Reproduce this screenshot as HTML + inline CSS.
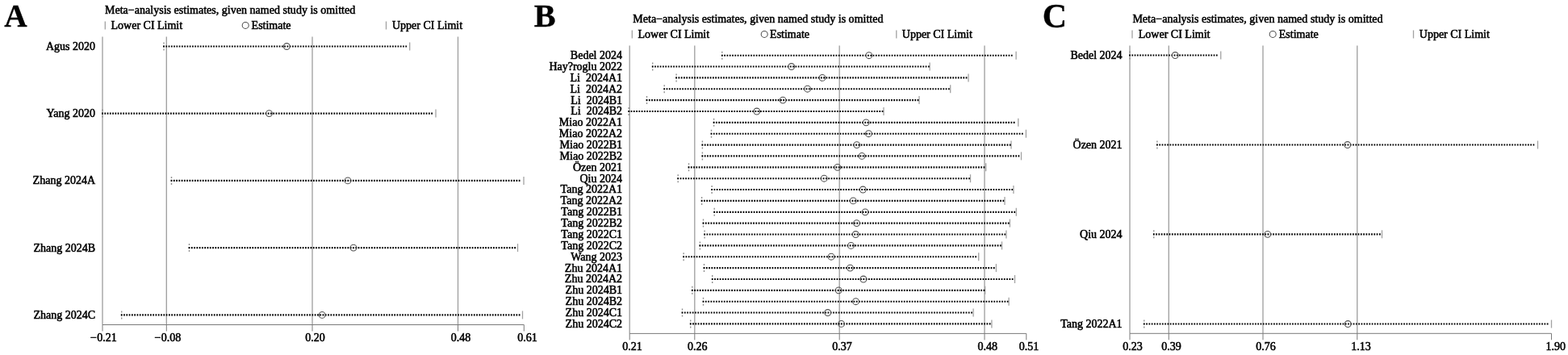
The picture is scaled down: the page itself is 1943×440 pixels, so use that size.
<!DOCTYPE html>
<html lang="en">
<head>
<meta charset="utf-8">
<title>Meta-analysis estimates, given named study is omitted</title>
<style>
html,body{margin:0;padding:0;background:#fff;}
body{width:1943px;height:440px;overflow:hidden;}
svg{display:block;font-family:"Liberation Serif","Noto Serif CJK SC",serif;}
.t{font-size:14px;fill:#000;stroke:#000;stroke-width:0.55px;white-space:pre;}
.r{text-anchor:end;}
.pl{font-weight:bold;fill:#000;stroke:#000;stroke-width:0.3px;}
.g{stroke:#a0a0a0;stroke-width:1.35;}
.ax{stroke:#7a7a7a;stroke-width:1;}
.ci{stroke:#a2a2a2;stroke-width:1.3;}
.lg{stroke:#3a3a3a;stroke-width:1.2;}
.lo{stroke:#909090;stroke-width:1.4;stroke-dasharray:2 2;}
.d{stroke:#000;stroke-width:2.15;}
.est{fill:none;stroke:#505050;stroke-width:1.05;}
</style>
</head>
<body>
<svg width="1943" height="440" viewBox="0 0 1943 440">
<rect width="1943" height="440" fill="#fff"/>
<g id="panelA">
<text class="pl" font-size="39.3" x="5.2" y="33.3">A</text>
<text class="t" x="130" y="17.3" textLength="310.2" lengthAdjust="spacing">Meta−analysis estimates, given named study is omitted</text>
<line class="ci" x1="130.3" y1="26.5" x2="130.3" y2="36.5"/>
<text class="t" x="137.5" y="35.6">Lower CI Limit</text>
<circle class="est lg" cx="304.2" cy="31.4" r="4"/>
<text class="t" x="311.6" y="35.6">Estimate</text>
<line class="ci" x1="478.5" y1="26.5" x2="478.5" y2="36.5"/>
<text class="t" x="486.0" y="35.6">Upper CI Limit</text>
<line class="g" x1="127" y1="45.5" x2="127" y2="402.5"/>
<line class="g" x1="206.3" y1="45.5" x2="206.3" y2="402.5"/>
<line class="g" x1="387" y1="45.5" x2="387" y2="402.5"/>
<line class="g" x1="567.5" y1="45.5" x2="567.5" y2="402.5"/>
<line class="ax" x1="127" y1="402.5" x2="649.3" y2="402.5"/>
<line class="ax" x1="127" y1="402.5" x2="127" y2="410.5"/>
<line class="ax" x1="206.3" y1="402.5" x2="206.3" y2="410.5"/>
<line class="ax" x1="387" y1="402.5" x2="387" y2="410.5"/>
<line class="ax" x1="567.5" y1="402.5" x2="567.5" y2="410.5"/>
<line class="ax" x1="649.3" y1="402.5" x2="649.3" y2="410.5"/>
<text class="t" x="111.9" y="423">−<tspan x="120.3">0.21</tspan></text>
<text class="t" x="191.4" y="423">−<tspan x="199.8">0.08</tspan></text>
<text class="t" x="378.3" y="423">0.20</text>
<text class="t" x="558.8" y="423">0.48</text>
<text class="t" x="641.3" y="423">0.61</text>
<text class="t r" x="118" y="61.9">Agus 2020</text>
<line class="ci lo" x1="203" y1="52.5" x2="203" y2="62.5"/>
<line class="ci" x1="507.7" y1="52.5" x2="507.7" y2="62.5"/>
<line class="d" x1="202.12" y1="57.5" x2="504.15" y2="57.5" stroke-dasharray="1.75 1.5133"/>
<circle class="est" cx="355.3" cy="57.5" r="3.9"/>
<text class="t r" x="118" y="145.0">Yang 2020</text>
<line class="ci lo" x1="127" y1="135.6" x2="127" y2="145.6"/>
<line class="ci" x1="540" y1="135.6" x2="540" y2="145.6"/>
<line class="d" x1="126.12" y1="140.6" x2="536.05" y2="140.6" stroke-dasharray="1.75 1.5150"/>
<circle class="est" cx="333.5" cy="140.6" r="3.9"/>
<text class="t r" x="118" y="228.3">Zhang 2024A</text>
<line class="ci lo" x1="212.5" y1="218.9" x2="212.5" y2="228.9"/>
<line class="ci" x1="649" y1="218.9" x2="649" y2="228.9"/>
<line class="d" x1="211.62" y1="223.9" x2="644.55" y2="223.9" stroke-dasharray="1.75 1.5161"/>
<circle class="est" cx="431" cy="223.9" r="3.9"/>
<text class="t r" x="118" y="311.5">Zhang 2024B</text>
<line class="ci lo" x1="234.5" y1="302.1" x2="234.5" y2="312.1"/>
<line class="ci" x1="641.5" y1="302.1" x2="641.5" y2="312.1"/>
<line class="d" x1="233.62" y1="307.1" x2="639.05" y2="307.1" stroke-dasharray="1.75 1.5315"/>
<circle class="est" cx="438" cy="307.1" r="3.9"/>
<text class="t r" x="118" y="394.8">Zhang 2024C</text>
<line class="ci lo" x1="150.7" y1="385.4" x2="150.7" y2="395.4"/>
<line class="ci" x1="647.5" y1="385.4" x2="647.5" y2="395.4"/>
<line class="d" x1="149.82" y1="390.4" x2="644.55" y2="390.4" stroke-dasharray="1.75 1.5362"/>
<circle class="est" cx="399.2" cy="390.4" r="3.9"/>
</g>
<g id="panelB">
<text class="pl" font-size="40.2" x="661.8" y="33">B</text>
<text class="t" x="784.3" y="28.1" textLength="310.2" lengthAdjust="spacing">Meta−analysis estimates, given named study is omitted</text>
<line class="ci" x1="783.3" y1="37.5" x2="783.3" y2="47.5"/>
<text class="t" x="790.5" y="46.6">Lower CI Limit</text>
<circle class="est lg" cx="947.1999999999999" cy="42.4" r="4"/>
<text class="t" x="954.0999999999999" y="46.6">Estimate</text>
<line class="ci" x1="1110.8" y1="37.5" x2="1110.8" y2="47.5"/>
<text class="t" x="1117.8" y="46.6">Upper CI Limit</text>
<line class="g" x1="780.2" y1="56.5" x2="780.2" y2="413.4"/>
<line class="g" x1="860.8" y1="56.5" x2="860.8" y2="413.4"/>
<line class="g" x1="1040.2" y1="56.5" x2="1040.2" y2="413.4"/>
<line class="g" x1="1220" y1="56.5" x2="1220" y2="413.4"/>
<line class="ax" x1="780.2" y1="413.4" x2="1271.8" y2="413.4"/>
<line class="ax" x1="780.2" y1="413.4" x2="780.2" y2="421.4"/>
<line class="ax" x1="860.8" y1="413.4" x2="860.8" y2="421.4"/>
<line class="ax" x1="1040.2" y1="413.4" x2="1040.2" y2="421.4"/>
<line class="ax" x1="1220" y1="413.4" x2="1220" y2="421.4"/>
<line class="ax" x1="1271.8" y1="413.4" x2="1271.8" y2="421.4"/>
<text class="t" x="771.3" y="433.9">0.21</text>
<text class="t" x="852" y="433.9">0.26</text>
<text class="t" x="1031.2" y="433.9">0.37</text>
<text class="t" x="1211.5" y="433.9">0.48</text>
<text class="t" x="1262.7" y="433.9">0.51</text>
<text class="t r" x="771" y="73.1">Bedel 2024</text>
<line class="ci lo" x1="894.8" y1="63.7" x2="894.8" y2="73.7"/>
<line class="ci" x1="1259.1" y1="63.7" x2="1259.1" y2="73.7"/>
<line class="d" x1="893.92" y1="68.7" x2="1254.65" y2="68.7" stroke-dasharray="1.75 1.5429"/>
<circle class="est" cx="1076.8" cy="68.7" r="3.9"/>
<text class="t r" x="771" y="86.9">Hay?roglu 2022</text>
<line class="ci lo" x1="808.7" y1="77.5" x2="808.7" y2="87.5"/>
<line class="ci" x1="1152.1" y1="77.5" x2="1152.1" y2="87.5"/>
<line class="d" x1="807.83" y1="82.5" x2="1151.75" y2="82.5" stroke-dasharray="1.75 1.5397"/>
<circle class="est" cx="980.7" cy="82.5" r="3.9"/>
<text class="t r" x="771" y="100.8">Li  2024A1</text>
<line class="ci lo" x1="838.1" y1="91.4" x2="838.1" y2="101.4"/>
<line class="ci" x1="1200" y1="91.4" x2="1200" y2="101.4"/>
<line class="d" x1="837.23" y1="96.4" x2="1198.45" y2="96.4" stroke-dasharray="1.75 1.5175"/>
<circle class="est" cx="1019" cy="96.4" r="3.9"/>
<text class="t r" x="771" y="114.6">Li  2024A2</text>
<line class="ci lo" x1="823.2" y1="105.2" x2="823.2" y2="115.2"/>
<line class="ci" x1="1177.7" y1="105.2" x2="1177.7" y2="115.2"/>
<line class="d" x1="822.33" y1="110.2" x2="1176.75" y2="110.2" stroke-dasharray="1.75 1.5150"/>
<circle class="est" cx="1000.6" cy="110.2" r="3.9"/>
<text class="t r" x="771" y="128.5">Li  2024B1</text>
<line class="ci lo" x1="801.5" y1="119.1" x2="801.5" y2="129.1"/>
<line class="ci" x1="1139" y1="119.1" x2="1139" y2="129.1"/>
<line class="d" x1="800.62" y1="124.1" x2="1138.45" y2="124.1" stroke-dasharray="1.75 1.5124"/>
<circle class="est" cx="970.1" cy="124.1" r="3.9"/>
<text class="t r" x="771" y="142.4">Li  2024B2</text>
<line class="ci lo" x1="779.2" y1="133.0" x2="779.2" y2="143.0"/>
<line class="ci" x1="1095" y1="133.0" x2="1095" y2="143.0"/>
<line class="d" x1="778.33" y1="138.0" x2="1094.45" y2="138.0" stroke-dasharray="1.75 1.5242"/>
<circle class="est" cx="937.8" cy="138.0" r="3.9"/>
<text class="t r" x="771" y="156.2">Miao 2022A1</text>
<line class="ci lo" x1="884.6" y1="146.8" x2="884.6" y2="156.8"/>
<line class="ci" x1="1261.8" y1="146.8" x2="1261.8" y2="156.8"/>
<line class="d" x1="883.73" y1="151.8" x2="1257.55" y2="151.8" stroke-dasharray="1.75 1.5423"/>
<circle class="est" cx="1073.2" cy="151.8" r="3.9"/>
<text class="t r" x="771" y="170.1">Miao 2022A2</text>
<line class="ci lo" x1="881.5" y1="160.7" x2="881.5" y2="170.7"/>
<line class="ci" x1="1271.4" y1="160.7" x2="1271.4" y2="170.7"/>
<line class="d" x1="880.62" y1="165.7" x2="1267.75" y2="165.7" stroke-dasharray="1.75 1.5155"/>
<circle class="est" cx="1076.4" cy="165.7" r="3.9"/>
<text class="t r" x="771" y="184.0">Miao 2022B1</text>
<line class="ci lo" x1="870.4" y1="174.6" x2="870.4" y2="184.6"/>
<line class="ci" x1="1253" y1="174.6" x2="1253" y2="184.6"/>
<line class="d" x1="869.52" y1="179.6" x2="1252.65" y2="179.6" stroke-dasharray="1.75 1.5373"/>
<circle class="est" cx="1061.7" cy="179.6" r="3.9"/>
<text class="t r" x="771" y="197.8">Miao 2022B2</text>
<line class="ci lo" x1="870.4" y1="188.4" x2="870.4" y2="198.4"/>
<line class="ci" x1="1265.5" y1="188.4" x2="1265.5" y2="198.4"/>
<line class="d" x1="869.52" y1="193.4" x2="1263.35" y2="193.4" stroke-dasharray="1.75 1.5169"/>
<circle class="est" cx="1068" cy="193.4" r="3.9"/>
<text class="t r" x="771" y="211.7">Özen 2021</text>
<line class="ci lo" x1="853.5" y1="202.3" x2="853.5" y2="212.3"/>
<line class="ci" x1="1221.7" y1="202.3" x2="1221.7" y2="212.3"/>
<line class="d" x1="852.62" y1="207.3" x2="1220.35" y2="207.3" stroke-dasharray="1.75 1.5172"/>
<circle class="est" cx="1037.8" cy="207.3" r="3.9"/>
<text class="t r" x="771" y="225.6">Qiu 2024</text>
<line class="ci lo" x1="840.2" y1="216.2" x2="840.2" y2="226.2"/>
<line class="ci" x1="1202.5" y1="216.2" x2="1202.5" y2="226.2"/>
<line class="d" x1="839.33" y1="221.2" x2="1201.95" y2="221.2" stroke-dasharray="1.75 1.5302"/>
<circle class="est" cx="1021.2" cy="221.2" r="3.9"/>
<text class="t r" x="771" y="239.4">Tang 2022A1</text>
<line class="ci lo" x1="882.1" y1="230.0" x2="882.1" y2="240.0"/>
<line class="ci" x1="1255.9" y1="230.0" x2="1255.9" y2="240.0"/>
<line class="d" x1="881.23" y1="235.0" x2="1255.15" y2="235.0" stroke-dasharray="1.75 1.5143"/>
<circle class="est" cx="1069.3" cy="235.0" r="3.9"/>
<text class="t r" x="771" y="253.3">Tang 2022A2</text>
<line class="ci lo" x1="869.6" y1="243.9" x2="869.6" y2="253.9"/>
<line class="ci" x1="1245" y1="243.9" x2="1245" y2="253.9"/>
<line class="d" x1="868.73" y1="248.9" x2="1244.25" y2="248.9" stroke-dasharray="1.75 1.5283"/>
<circle class="est" cx="1057.2" cy="248.9" r="3.9"/>
<text class="t r" x="771" y="267.2">Tang 2022B1</text>
<line class="ci lo" x1="885.2" y1="257.8" x2="885.2" y2="267.8"/>
<line class="ci" x1="1259.3" y1="257.8" x2="1259.3" y2="267.8"/>
<line class="d" x1="884.33" y1="262.8" x2="1258.15" y2="262.8" stroke-dasharray="1.75 1.5423"/>
<circle class="est" cx="1072.1" cy="262.8" r="3.9"/>
<text class="t r" x="771" y="281.0">Tang 2022B2</text>
<line class="ci lo" x1="871.5" y1="271.6" x2="871.5" y2="281.6"/>
<line class="ci" x1="1251.4" y1="271.6" x2="1251.4" y2="281.6"/>
<line class="d" x1="870.62" y1="276.6" x2="1250.65" y2="276.6" stroke-dasharray="1.75 1.5389"/>
<circle class="est" cx="1061.5" cy="276.6" r="3.9"/>
<text class="t r" x="771" y="294.9">Tang 2022C1</text>
<line class="ci lo" x1="873.1" y1="285.5" x2="873.1" y2="295.5"/>
<line class="ci" x1="1246.9" y1="285.5" x2="1246.9" y2="295.5"/>
<line class="d" x1="872.23" y1="290.5" x2="1246.15" y2="290.5" stroke-dasharray="1.75 1.5143"/>
<circle class="est" cx="1060.3" cy="290.5" r="3.9"/>
<text class="t r" x="771" y="308.8">Tang 2022C2</text>
<line class="ci lo" x1="867.4" y1="299.4" x2="867.4" y2="309.4"/>
<line class="ci" x1="1241.5" y1="299.4" x2="1241.5" y2="309.4"/>
<line class="d" x1="866.52" y1="304.4" x2="1240.75" y2="304.4" stroke-dasharray="1.75 1.5169"/>
<circle class="est" cx="1054.5" cy="304.4" r="3.9"/>
<text class="t r" x="771" y="322.6">Wang 2023</text>
<line class="ci lo" x1="847.1" y1="313.2" x2="847.1" y2="323.2"/>
<line class="ci" x1="1212.7" y1="313.2" x2="1212.7" y2="323.2"/>
<line class="d" x1="846.23" y1="318.2" x2="1210.05" y2="318.2" stroke-dasharray="1.75 1.5411"/>
<circle class="est" cx="1030" cy="318.2" r="3.9"/>
<text class="t r" x="771" y="336.5">Zhu 2024A1</text>
<line class="ci lo" x1="872.5" y1="327.1" x2="872.5" y2="337.1"/>
<line class="ci" x1="1234.4" y1="327.1" x2="1234.4" y2="337.1"/>
<line class="d" x1="871.62" y1="332.1" x2="1232.65" y2="332.1" stroke-dasharray="1.75 1.5157"/>
<circle class="est" cx="1053.5" cy="332.1" r="3.9"/>
<text class="t r" x="771" y="350.4">Zhu 2024A2</text>
<line class="ci lo" x1="882.7" y1="341.0" x2="882.7" y2="351.0"/>
<line class="ci" x1="1257.5" y1="341.0" x2="1257.5" y2="351.0"/>
<line class="d" x1="881.83" y1="346.0" x2="1255.55" y2="346.0" stroke-dasharray="1.75 1.5414"/>
<circle class="est" cx="1069.9" cy="346.0" r="3.9"/>
<text class="t r" x="771" y="364.2">Zhu 2024B1</text>
<line class="ci lo" x1="857.8" y1="354.8" x2="857.8" y2="364.8"/>
<line class="ci" x1="1220.7" y1="354.8" x2="1220.7" y2="364.8"/>
<line class="d" x1="856.92" y1="359.8" x2="1220.35" y2="359.8" stroke-dasharray="1.75 1.5375"/>
<circle class="est" cx="1039.2" cy="359.8" r="3.9"/>
<text class="t r" x="771" y="378.1">Zhu 2024B2</text>
<line class="ci lo" x1="871.5" y1="368.7" x2="871.5" y2="378.7"/>
<line class="ci" x1="1250.1" y1="368.7" x2="1250.1" y2="378.7"/>
<line class="d" x1="870.62" y1="373.7" x2="1249.55" y2="373.7" stroke-dasharray="1.75 1.5293"/>
<circle class="est" cx="1060.5" cy="373.7" r="3.9"/>
<text class="t r" x="771" y="391.9">Zhu 2024C1</text>
<line class="ci lo" x1="845.5" y1="382.5" x2="845.5" y2="392.5"/>
<line class="ci" x1="1206.1" y1="382.5" x2="1206.1" y2="392.5"/>
<line class="d" x1="844.62" y1="387.5" x2="1204.95" y2="387.5" stroke-dasharray="1.75 1.5392"/>
<circle class="est" cx="1025.7" cy="387.5" r="3.9"/>
<text class="t r" x="771" y="405.8">Zhu 2024C2</text>
<line class="ci lo" x1="855.7" y1="396.4" x2="855.7" y2="406.4"/>
<line class="ci" x1="1228.9" y1="396.4" x2="1228.9" y2="406.4"/>
<line class="d" x1="854.83" y1="401.4" x2="1227.55" y2="401.4" stroke-dasharray="1.75 1.5325"/>
<circle class="est" cx="1042.5" cy="401.4" r="3.9"/>
</g>
<g id="panelC">
<text class="pl" font-size="42" x="1291.8" y="33.5">C</text>
<text class="t" x="1403.4" y="28.1" textLength="310.2" lengthAdjust="spacing">Meta−analysis estimates, given named study is omitted</text>
<line class="ci" x1="1403" y1="37.5" x2="1403" y2="47.5"/>
<text class="t" x="1410.8" y="46.6">Lower CI Limit</text>
<circle class="est lg" cx="1577.2" cy="42.4" r="4"/>
<text class="t" x="1584.8" y="46.6">Estimate</text>
<line class="ci" x1="1751.5" y1="37.5" x2="1751.5" y2="47.5"/>
<text class="t" x="1758.8" y="46.6">Upper CI Limit</text>
<line class="g" x1="1400" y1="56.5" x2="1400" y2="413.3"/>
<line class="g" x1="1448.3" y1="56.5" x2="1448.3" y2="413.3"/>
<line class="g" x1="1565" y1="56.5" x2="1565" y2="413.3"/>
<line class="g" x1="1681.8" y1="56.5" x2="1681.8" y2="413.3"/>
<line class="ax" x1="1400" y1="413.3" x2="1922.5" y2="413.3"/>
<line class="ax" x1="1400" y1="413.3" x2="1400" y2="421.3"/>
<line class="ax" x1="1448.3" y1="413.3" x2="1448.3" y2="421.3"/>
<line class="ax" x1="1565" y1="413.3" x2="1565" y2="421.3"/>
<line class="ax" x1="1681.8" y1="413.3" x2="1681.8" y2="421.3"/>
<line class="ax" x1="1922.5" y1="413.3" x2="1922.5" y2="421.3"/>
<text class="t" x="1391.3" y="433.8">0.23</text>
<text class="t" x="1439.3" y="433.8">0.39</text>
<text class="t" x="1556.3" y="433.8">0.76</text>
<text class="t" x="1674.3" y="433.8">1.13</text>
<text class="t" x="1915.5" y="433.8">1.90</text>
<text class="t r" x="1390.6" y="72.9">Bedel 2024</text>
<line class="ci lo" x1="1400" y1="63.5" x2="1400" y2="73.5"/>
<line class="ci" x1="1512.75" y1="63.5" x2="1512.75" y2="73.5"/>
<line class="d" x1="1399.12" y1="68.5" x2="1508.70" y2="68.5" stroke-dasharray="1.75 1.5159"/>
<circle class="est" cx="1456.25" cy="68.5" r="3.9"/>
<text class="t r" x="1390.6" y="183.9">Özen 2021</text>
<line class="ci lo" x1="1433.9" y1="174.5" x2="1433.9" y2="184.5"/>
<line class="ci" x1="1905.5" y1="174.5" x2="1905.5" y2="184.5"/>
<line class="d" x1="1433.03" y1="179.5" x2="1901.35" y2="179.5" stroke-dasharray="1.75 1.5354"/>
<circle class="est" cx="1669.75" cy="179.5" r="3.9"/>
<text class="t r" x="1390.6" y="294.7">Qiu 2024</text>
<line class="ci lo" x1="1429.75" y1="285.3" x2="1429.75" y2="295.3"/>
<line class="ci" x1="1712.5" y1="285.3" x2="1712.5" y2="295.3"/>
<line class="d" x1="1428.88" y1="290.3" x2="1710.75" y2="290.3" stroke-dasharray="1.75 1.5450"/>
<circle class="est" cx="1570.75" cy="290.3" r="3.9"/>
<text class="t r" x="1390.6" y="405.9">Tang 2022A1</text>
<line class="ci lo" x1="1417.75" y1="396.5" x2="1417.75" y2="406.5"/>
<line class="ci" x1="1922.5" y1="396.5" x2="1922.5" y2="406.5"/>
<line class="d" x1="1416.88" y1="401.5" x2="1918.55" y2="401.5" stroke-dasharray="1.75 1.5387"/>
<circle class="est" cx="1670.25" cy="401.5" r="3.9"/>
</g>
</svg>
</body>
</html>
